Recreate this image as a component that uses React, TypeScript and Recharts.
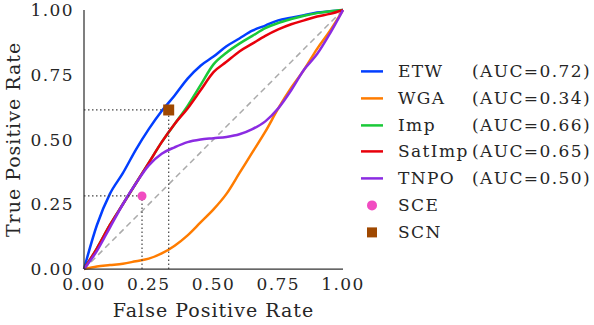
import React from 'react';
import { ComposedChart, Line, Scatter, XAxis, YAxis, Legend } from 'recharts';

const fpr = [0, 0.05, 0.1, 0.15, 0.2, 0.25, 0.3, 0.35, 0.4, 0.45, 0.5, 0.55, 0.6, 0.65, 0.7, 0.75, 0.8, 0.85, 0.9, 0.95, 1];
const etwTpr = [0, 0.17, 0.29, 0.37, 0.46, 0.54, 0.61, 0.67, 0.735, 0.785, 0.82, 0.86, 0.89, 0.92, 0.94, 0.96, 0.97, 0.98, 0.99, 0.995, 1];
const wgaTpr = [0, 0.01, 0.015, 0.02, 0.03, 0.04, 0.06, 0.09, 0.13, 0.18, 0.23, 0.29, 0.37, 0.45, 0.53, 0.62, 0.7, 0.77, 0.85, 0.92, 1];
const impTpr = [0, 0.08, 0.17, 0.25, 0.33, 0.41, 0.49, 0.56, 0.63, 0.71, 0.79, 0.835, 0.87, 0.9, 0.93, 0.95, 0.965, 0.978, 0.988, 0.995, 1];
const satImpTpr = [0, 0.08, 0.17, 0.25, 0.33, 0.41, 0.49, 0.56, 0.62, 0.69, 0.76, 0.8, 0.84, 0.87, 0.9, 0.925, 0.945, 0.96, 0.975, 0.985, 1];
const tnpoTpr = [0, 0.07, 0.16, 0.25, 0.33, 0.4, 0.445, 0.47, 0.49, 0.5, 0.505, 0.51, 0.52, 0.54, 0.57, 0.62, 0.69, 0.77, 0.83, 0.91, 1];

const curveNames = ['ETW', 'WGA', 'Imp', 'SatImp', 'TNPO'];
const curveAucs = ['0.72', '0.34', '0.66', '0.65', '0.50'];
const curveColors = ['#023eff', '#ff7c00', '#1ac938', '#e8000b', '#8b2be2'];
const curveValues = [etwTpr, wgaTpr, impTpr, satImpTpr, tnpoTpr];

const sceName = 'SCE';
const scePoint = { x: 0.224, y: 0.282 };
const sceColor = '#f14cc1';
const scnName = 'SCN';
const scnPoint = { x: 0.327, y: 0.614 };
const scnColor = '#9f4800';

const ticks = [0, 0.25, 0.5, 0.75, 1];
const tickLabels = ['0.00', '0.25', '0.50', '0.75', '1.00'];

const FONT = '"DejaVu Serif", serif';

const curveData = curveValues.map((vals) => fpr.map((x, i) => ({ x, y: vals[i] })));
const diagonal = [{ x: 0, y: 0 }, { x: 1, y: 1 }];
const guideLines = [scePoint, scnPoint].flatMap((p) => [
  [{ x: 0, y: p.y }, { x: p.x, y: p.y }],
  [{ x: p.x, y: 0 }, { x: p.x, y: p.y }],
]);

const Square = (props: any) => {
  const { cx, cy } = props;
  return <rect x={cx - 5.5} y={cy - 5.5} width={11} height={11} fill={scnColor} />;
};

const LegendContent = () => {
  const rowH = 26.8;
  return (
    <div style={{ fontFamily: FONT, fontSize: 17, letterSpacing: '1.4px', color: '#262626', lineHeight: `${rowH}px` }}>
      {curveNames.map((n, i) => (
        <div key={n} style={{ position: 'relative', height: rowH, whiteSpace: 'nowrap' }}>
          <svg width={24} height={rowH} style={{ position: 'absolute', left: 0, top: 0 }}>
            <line x1={1} x2={23} y1={rowH / 2} y2={rowH / 2} stroke={curveColors[i]} strokeWidth={2.5} />
          </svg>
          <span style={{ position: 'absolute', left: 38 }}>{n}</span>
          <span style={{ position: 'absolute', left: 112 }}>(AUC={curveAucs[i]})</span>
        </div>
      ))}
      <div style={{ position: 'relative', height: rowH }}>
        <svg width={24} height={rowH} style={{ position: 'absolute', left: 0, top: 0 }}>
          <circle cx={12} cy={rowH / 2} r={5} fill={sceColor} />
        </svg>
        <span style={{ position: 'absolute', left: 38 }}>{sceName}</span>
      </div>
      <div style={{ position: 'relative', height: rowH }}>
        <svg width={24} height={rowH} style={{ position: 'absolute', left: 0, top: 0 }}>
          <rect x={7} y={rowH / 2 - 5} width={10} height={10} fill={scnColor} />
        </svg>
        <span style={{ position: 'absolute', left: 38 }}>{scnName}</span>
      </div>
    </div>
  );
};

const tickStyle = { fontFamily: FONT, fontSize: 17, fill: '#262626', letterSpacing: '1.4px' };
const labelStyle = { fontFamily: FONT, fontSize: 19, fill: '#262626', letterSpacing: '1px' };

export default function App() {
  return (
    <div style={{ position: 'absolute', left: 0, top: 0, width: 594, height: 325 }}>
      <ComposedChart width={594} height={325} margin={{ top: 10, right: 251, bottom: 0, left: 0 }}>
        <XAxis
          type="number"
          dataKey="x"
          domain={[0, 1]}
          ticks={ticks}
          tickFormatter={(v: number) => tickLabels[ticks.indexOf(v)]}
          tickLine={false}
          tickSize={0}
          tickMargin={9}
          height={56}
          axisLine={{ stroke: '#333', strokeWidth: 1.25 }}
          tick={tickStyle}
          label={{ value: 'False Positive Rate', position: 'insideBottom', offset: 8, style: { ...labelStyle, textAnchor: 'middle' } }}
        />
        <YAxis
          type="number"
          dataKey="y"
          domain={[0, 1]}
          ticks={ticks}
          tickFormatter={(v: number) => tickLabels[ticks.indexOf(v)]}
          tickLine={false}
          tickSize={0}
          tickMargin={10}
          width={84}
          axisLine={{ stroke: '#333', strokeWidth: 1.25 }}
          tick={tickStyle}
          label={{ value: 'True Positive Rate', angle: -90, position: 'insideLeft', offset: 13, style: { ...labelStyle, textAnchor: 'middle' } }}
        />
        <Line data={diagonal} dataKey="y" stroke="#aaaaaa" strokeWidth={1.5} strokeDasharray="6 4" dot={false} isAnimationActive={false} legendType="none" />
        {curveData.map((d, i) => (
          <Line key={curveNames[i]} type="monotone" data={d} dataKey="y" name={curveNames[i]} stroke={curveColors[i]} strokeWidth={2.5} dot={false} isAnimationActive={false} />
        ))}
        {guideLines.map((d, i) => (
          <Line key={'g' + i} data={d} dataKey="y" stroke="#444" strokeWidth={1.2} strokeDasharray="1.5 2.5" dot={false} isAnimationActive={false} legendType="none" />
        ))}
        <Scatter data={[scePoint]} dataKey="y" name={sceName} fill={sceColor} shape="circle" isAnimationActive={false} />
        <Scatter data={[scnPoint]} dataKey="y" name={scnName} fill={scnColor} shape={<Square />} isAnimationActive={false} />
        <Legend
          layout="vertical"
          align="center"
          verticalAlign="middle"
          content={<LegendContent />}
          wrapperStyle={{ left: 360, top: 58, width: 234, height: 190 }}
        />
      </ComposedChart>
    </div>
  );
}
